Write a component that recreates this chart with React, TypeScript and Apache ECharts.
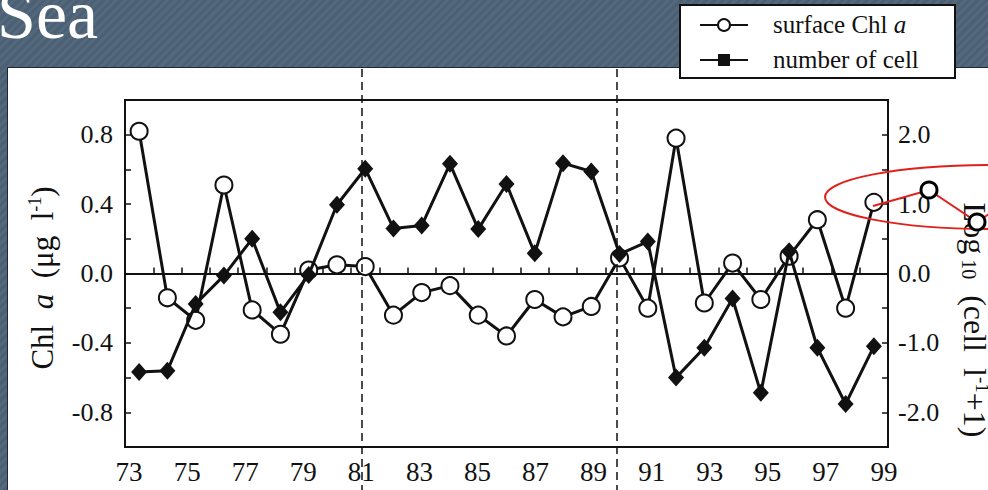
import React, { useEffect, useRef } from "react";
import * as echarts from "echarts";

// years (19xx) of the observations
const years = [73, 74, 75, 76, 77, 78, 79, 80, 81, 82, 83, 84, 85, 86, 87, 88, 89, 90, 91, 92, 93, 94, 95, 96, 97, 98, 99];
// surface Chl a anomaly (µg l-1), left axis
const chlA = [0.82, -0.14, -0.27, 0.51, -0.21, -0.35, 0.02, 0.05, 0.04, -0.24, -0.11, -0.07, -0.24, -0.36, -0.15, -0.25, -0.19, 0.09, -0.2, 0.78, -0.17, 0.06, -0.15, 0.1, 0.31, -0.2, 0.41];
// log10(cell l-1 + 1) anomaly, right axis
const cellLog = [-1.42, -1.4, -0.44, -0.03, 0.5, -0.56, -0.02, 0.99, 1.51, 0.65, 0.69, 1.58, 0.64, 1.29, 0.29, 1.59, 1.47, 0.28, 0.46, -1.5, -1.07, -0.36, -1.72, 0.32, -1.07, -1.88, -1.05];
// bottom tick labels
const xLabelYears = [73, 75, 77, 79, 81, 83, 85, 87, 89, 91, 93, 95, 97, 99];
const leftLabels = [-0.8, -0.4, 0, 0.4, 0.8];
const rightLabels = [-2, -1, 0, 1, 2];

const FONT = "'Liberation Serif', 'Times New Roman', serif";
const INK = "#111";

export default function App() {
  const ref = useRef<HTMLDivElement>(null);
  useEffect(() => {
    if (!ref.current) return;
    const chart = echarts.init(ref.current, undefined, { renderer: "svg" });
    const near = (v: number, arr: number[]) => arr.some((a) => Math.abs(a - v) < 1e-6);
    chart.setOption({
      animation: false,
      backgroundColor: "transparent",
      grid: {
        left: 125, right: 100, top: 100, bottom: 43,
        show: true, borderColor: INK, borderWidth: 2, backgroundColor: "transparent",
      },
      xAxis: [
        {
          type: "value", min: 72.5, max: 99.5, interval: 1, position: "bottom",
          axisLine: { show: true, onZero: true, onZeroAxisIndex: 0, lineStyle: { color: INK, width: 2 } },
          axisTick: { show: true, inside: true, length: 6, lineStyle: { color: INK, width: 1.5 } },
          axisLabel: { show: false },
          splitLine: { show: false },
        },
        {
          type: "value", min: 72.86, max: 99.14, position: "bottom",
          axisLine: { show: false, onZero: false },
          axisTick: { show: false },
          axisLabel: {
            customValues: xLabelYears, margin: 11, fontSize: 27, fontFamily: FONT, color: INK,
            formatter: (v: number) => String(Math.round(v)),
          },
          splitLine: { show: false },
        },
      ],
      yAxis: [
        {
          type: "value", min: -1, max: 1, interval: 0.2, position: "left",
          axisLine: { show: true, lineStyle: { color: INK, width: 2 } },
          axisTick: { show: true, inside: true, length: 6, lineStyle: { color: INK, width: 1.5 } },
          axisLabel: {
            margin: 12, fontSize: 26, fontFamily: FONT, color: INK,
            formatter: (v: number) => (near(v, leftLabels) ? v.toFixed(1).replace("-0.0", "0.0") : ""),
          },
          splitLine: { show: false },
        },
        {
          type: "value", min: -2.5, max: 2.5, interval: 0.5, position: "right",
          axisLine: { show: true, lineStyle: { color: INK, width: 2 } },
          axisTick: { show: true, inside: true, length: 6, lineStyle: { color: INK, width: 1.5 } },
          axisLabel: {
            margin: 10, fontSize: 26, fontFamily: FONT, color: INK,
            formatter: (v: number) => (near(v, rightLabels) ? v.toFixed(1).replace("-0.0", "0.0") : ""),
          },
          splitLine: { show: false },
        },
      ],
      series: [
        {
          name: "surface Chl a", type: "line", xAxisIndex: 0, yAxisIndex: 0,
          data: years.map((y, i) => [y, chlA[i]]),
          symbol: "circle", symbolSize: 17,
          itemStyle: { color: "#fff", borderColor: INK, borderWidth: 2 },
          lineStyle: { color: INK, width: 3 },
          z: 3,
        },
        {
          name: "number of cell", type: "line", xAxisIndex: 0, yAxisIndex: 1,
          data: years.map((y, i) => [y, cellLog[i]]),
          symbol: "diamond", symbolSize: [16, 18],
          itemStyle: { color: INK },
          lineStyle: { color: INK, width: 3 },
          z: 4,
        },
      ],
      graphic: [
        {
          type: "text", x: -3, y: 14, z: 50,
          style: { text: "Sea", fill: "#fff", font: `70px ${FONT}`, align: "left", verticalAlign: "middle" },
        },
        // y-axis titles
        {
          type: "text", x: 42, y: 278, rotation: Math.PI / 2, z: 50,
          style: {
            text: "{n|Chl  }{i|a}{n|  (μg  l}{s|-1}{n|)}",
            align: "center", verticalAlign: "middle",
            rich: {
              n: { fontFamily: FONT, fontSize: 31, fill: INK, lineHeight: 32 },
              i: { fontFamily: FONT, fontSize: 31, fontStyle: "italic", fill: INK, lineHeight: 32 },
              s: { fontFamily: FONT, fontSize: 18, fill: INK, verticalAlign: "top", lineHeight: 32 },
            },
          },
        },
        {
          type: "text", x: 975, y: 320, rotation: -Math.PI / 2, z: 50,
          style: {
            text: "{n|Log}{b| 10}{n|  (cell  l}{s|-1}{n|+1)}",
            align: "center", verticalAlign: "middle",
            rich: {
              n: { fontFamily: FONT, fontSize: 32, fill: INK, lineHeight: 33 },
              b: { fontFamily: FONT, fontSize: 20, fill: INK, verticalAlign: "bottom", lineHeight: 33 },
              s: { fontFamily: FONT, fontSize: 19, fill: INK, verticalAlign: "top", lineHeight: 33 },
            },
          },
        },
        // period separators
        {
          type: "line", z: 60,
          shape: { x1: 362, y1: 69, x2: 362, y2: 490 },
          style: { stroke: INK, lineWidth: 1.5, lineDash: [8, 5] },
        },
        {
          type: "line", z: 60,
          shape: { x1: 617, y1: 69, x2: 617, y2: 490 },
          style: { stroke: INK, lineWidth: 1.5, lineDash: [8, 5] },
        },
        // legend box
        {
          type: "rect", z: 100,
          shape: { x: 680, y: 5, width: 275, height: 73 },
          style: { fill: "#fff", stroke: INK, lineWidth: 2 },
        },
        { type: "line", z: 101, shape: { x1: 700, y1: 25, x2: 748, y2: 25 }, style: { stroke: INK, lineWidth: 2 } },
        { type: "circle", z: 102, shape: { cx: 724, cy: 25, r: 6 }, style: { fill: "#fff", stroke: INK, lineWidth: 2 } },
        { type: "line", z: 101, shape: { x1: 700, y1: 60, x2: 748, y2: 60 }, style: { stroke: INK, lineWidth: 2 } },
        { type: "rect", z: 102, shape: { x: 718, y: 54, width: 12, height: 12 }, style: { fill: INK } },
        {
          type: "text", x: 773, y: 24.5, z: 102,
          style: {
            text: "{n|surface Chl }{i|a}", verticalAlign: "middle", align: "left",
            rich: {
              n: { fontFamily: FONT, fontSize: 25, fill: INK },
              i: { fontFamily: FONT, fontSize: 25, fontStyle: "italic", fill: INK },
            },
          },
        },
        {
          type: "text", x: 773, y: 59.5, z: 102,
          style: { text: "number of cell", font: `25px ${FONT}`, fill: INK, verticalAlign: "middle", align: "left" },
        },
        // red annotation
        {
          type: "ellipse", z: 110,
          shape: { cx: 990, cy: 197, rx: 165, ry: 32 },
          style: { fill: "none", stroke: "#e0201b", lineWidth: 2 },
        },
        {
          type: "polyline", z: 111,
          shape: { points: [[873, 206], [929, 190], [977, 222], [995, 210]] },
          style: { fill: "none", stroke: "#e0201b", lineWidth: 2 },
        },
        { type: "circle", z: 112, shape: { cx: 929, cy: 190, r: 8 }, style: { fill: "#fff", stroke: "#000", lineWidth: 3 } },
        { type: "circle", z: 112, shape: { cx: 977, cy: 222, r: 8 }, style: { fill: "#fff", stroke: "#000", lineWidth: 3 } },
      ],
    });
    return () => chart.dispose();
  }, []);

  return (
    <div
      style={{
        position: "fixed", left: 0, top: 0, width: 988, height: 490, overflow: "hidden",
        background: "repeating-linear-gradient(135deg, #4b6074 0px, #4b6074 3px, #54687b 3px, #54687b 6px)",
      }}
    >
      <div
        style={{
          position: "absolute", left: 7, top: 67, width: 1000, height: 440,
          background: "#fff", border: "1.5px solid #1c2833", boxSizing: "border-box",
        }}
      />
      <div ref={ref} style={{ position: "absolute", left: 0, top: 0, width: 988, height: 490 }} />
    </div>
  );
}
